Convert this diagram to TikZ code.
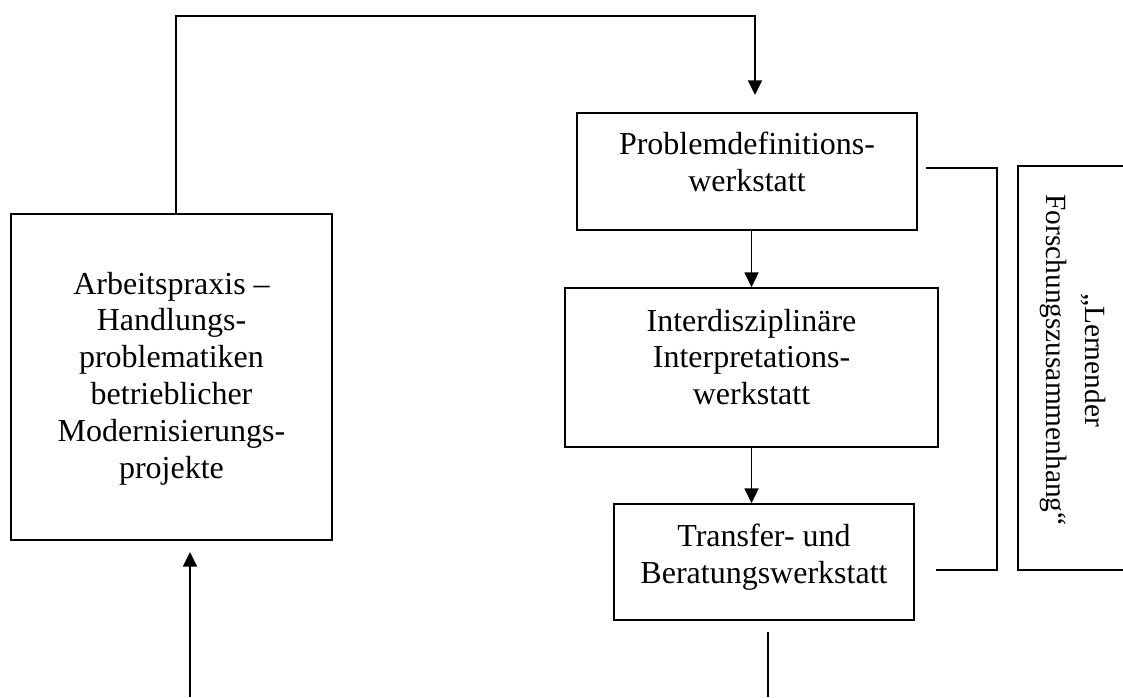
\documentclass[tikz,border=0pt]{standalone}
\usepackage{fontspec}
\setmainfont{Liberation Serif}
\usetikzlibrary{arrows.meta}
\begin{document}
\begin{tikzpicture}[x=0.75pt,y=-0.75pt,line width=1.3pt,
  txt/.style={align=center,inner sep=0pt,font=\fontsize{24}{27.6}\selectfont},
  box/.style={txt,draw},
  arr/.style={-{Triangle[length=11pt,width=10.5pt]}}]
\useasboundingbox (0,0) rectangle (1123,697);
\node[box,minimum width=240.75pt,minimum height=244.5pt,text depth=3pt] (arb) at (171.5,377)
  {Arbeitspraxis --\\Handlungs-\\problematiken\\betrieblicher\\Modernisierungs-\\projekte};
\node[box,minimum width=255pt,minimum height=87.75pt,text depth=15pt] (prob) at (747,171.5)
  {Problemdefinitions-\\werkstatt};
\node[box,minimum width=279.75pt,minimum height=119.25pt,text depth=16pt] (inter) at (751.5,367.5)
  {Interdisziplinäre\\Interpretations-\\werkstatt};
\node[box,minimum width=225pt,minimum height=87pt,text depth=13pt] (trans) at (764,562)
  {Transfer- und\\Beratungswerkstatt};
\node[txt,rotate=-90,font=\fontsize{22}{29}\selectfont] (lfz) at (1073,360) {„Lernender\\Forschungszusammenhang“};

\coordinate (top1) at (176,16);
\coordinate (top2) at (755,16);
\coordinate (tip1) at (755,95);
\coordinate (in1) at (190,697);
\coordinate (tip2) at (190,552);
\coordinate (out1) at (768,632);
\coordinate (out2) at (768,697);

\draw[arr] (arb.north -| top1) |- (top2) -- (tip1);
\draw[arr] (prob.south -| inter.north) -- (inter.north);
\draw[arr] (inter.south) -- (inter.south |- trans.north);
\draw (out1) -- (out2);
\draw[arr] (in1) -- (tip2);

\draw (926,168) -| (997,570) -- (936,570);
\draw (1123,166) -- (1018,166) -- (1018,570) -- (1123,570);
\end{tikzpicture}
\end{document}
